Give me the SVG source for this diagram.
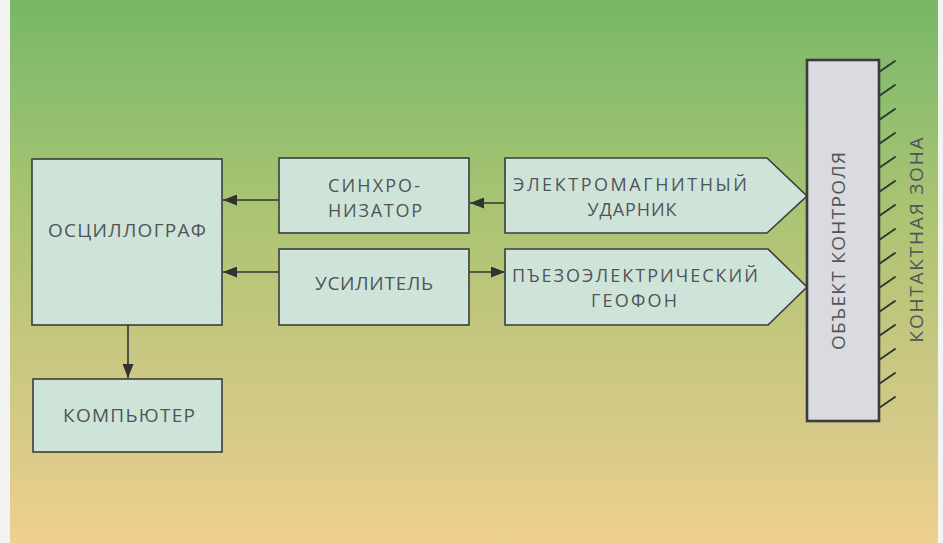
<svg xmlns="http://www.w3.org/2000/svg" width="943" height="543" viewBox="0 0 943 543">
<defs>
<linearGradient id="bg" x1="0" y1="0" x2="0" y2="1">
<stop offset="0" stop-color="#78b764"/>
<stop offset="0.15" stop-color="#8bbd6e"/>
<stop offset="0.38" stop-color="#a9c473"/>
<stop offset="0.6" stop-color="#c3c67e"/>
<stop offset="0.8" stop-color="#d6ca89"/>
<stop offset="1" stop-color="#efd08d"/>
</linearGradient>
<marker id="ah" viewBox="0 0 14 11" refX="14" refY="5.5" markerWidth="14" markerHeight="11" markerUnits="userSpaceOnUse" orient="auto">
<path d="M0,0 L14,5.5 L0,11 Z" fill="#2f3331"/>
</marker>
<style>
.box{fill:#cfe4d8;stroke:#3a3c3b;stroke-width:1.6}
.lbl{font-family:"Open Sans","Liberation Sans",sans-serif;font-size:19px;fill:#50545a;text-anchor:middle}
.two{font-size:18px}
.conn{stroke:#333735;stroke-width:1.6;fill:none;marker-end:url(#ah)}
.hatch{stroke:#2e3833;stroke-width:2;stroke-linecap:round}
</style>
</defs>
<rect x="0" y="0" width="943" height="543" fill="#f3f3f1"/>
<rect x="10" y="0" width="928" height="543" fill="url(#bg)"/>

<g id="oscillograph">
<rect class="box" x="32" y="159" width="190" height="166"/>
<text class="lbl" x="127" y="237" textLength="158" lengthAdjust="spacing">ОСЦИЛЛОГРАФ</text>
</g>
<g id="computer">
<rect class="box" x="33" y="379" width="189" height="73"/>
<text class="lbl" x="129" y="422" textLength="132" lengthAdjust="spacing">КОМПЬЮТЕР</text>
</g>
<g id="synchronizer">
<rect class="box" x="279" y="158" width="190" height="75"/>
<text class="lbl two" x="374" y="192" textLength="92" lengthAdjust="spacing">СИНХРО-</text>
<text class="lbl two" x="375" y="217" textLength="94" lengthAdjust="spacing">НИЗАТОР</text>
</g>
<g id="amplifier">
<rect class="box" x="279" y="249" width="190" height="76"/>
<text class="lbl" x="374" y="290" textLength="118" lengthAdjust="spacing">УСИЛИТЕЛЬ</text>
</g>
<g id="striker">
<path class="box" d="M505,158 L767,158 L807,196 L767,233 L505,233 Z"/>
<text class="lbl two" x="630" y="191" textLength="234" lengthAdjust="spacing">ЭЛЕКТРОМАГНИТНЫЙ</text>
<text class="lbl two" x="632" y="216" textLength="89" lengthAdjust="spacing">УДАРНИК</text>
</g>
<g id="geophone">
<path class="box" d="M505,249 L768,249 L807,287 L768,325 L505,325 Z"/>
<text class="lbl two" x="635" y="282" textLength="246" lengthAdjust="spacing">ПЪЕЗОЭЛЕКТРИЧЕСКИЙ</text>
<text class="lbl two" x="634" y="307" textLength="86" lengthAdjust="spacing">ГЕОФОН</text>
</g>
<g id="object">
<rect x="807" y="60" width="72" height="361" fill="#dadbe0" stroke="#3a3c3b" stroke-width="2.6"/>
<g>
<line class="hatch" x1="879" y1="72" x2="895" y2="61"/>
<line class="hatch" x1="879" y1="96" x2="895" y2="85"/>
<line class="hatch" x1="879" y1="120" x2="895" y2="109"/>
<line class="hatch" x1="879" y1="144" x2="895" y2="133"/>
<line class="hatch" x1="879" y1="168" x2="895" y2="157"/>
<line class="hatch" x1="879" y1="192" x2="895" y2="181"/>
<line class="hatch" x1="879" y1="216" x2="895" y2="205"/>
<line class="hatch" x1="879" y1="240" x2="895" y2="229"/>
<line class="hatch" x1="879" y1="264" x2="895" y2="253"/>
<line class="hatch" x1="879" y1="288" x2="895" y2="277"/>
<line class="hatch" x1="879" y1="312" x2="895" y2="301"/>
<line class="hatch" x1="879" y1="336" x2="895" y2="325"/>
<line class="hatch" x1="879" y1="360" x2="895" y2="349"/>
<line class="hatch" x1="879" y1="384" x2="895" y2="373"/>
<line class="hatch" x1="879" y1="408" x2="895" y2="397"/>
</g>
<text class="lbl" transform="translate(845,251) rotate(-90)" textLength="198" lengthAdjust="spacing">ОБЪЕКТ КОНТРОЛЯ</text>
</g>
<g id="contact-zone">
<text class="lbl" transform="translate(923,240) rotate(-90)" textLength="205" lengthAdjust="spacing">КОНТАКТНАЯ ЗОНА</text>
</g>

<g id="connectors">
<line class="conn" x1="279" y1="200" x2="223" y2="200"/>
<line class="conn" x1="279" y1="272" x2="223" y2="272"/>
<line class="conn" x1="505" y1="203" x2="470" y2="203"/>
<line class="conn" x1="469" y1="272" x2="505" y2="272"/>
<line class="conn" x1="128" y1="325" x2="128" y2="378"/>
</g>
</svg>
